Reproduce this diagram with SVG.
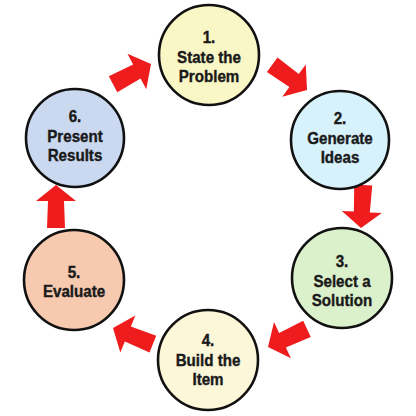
<svg xmlns="http://www.w3.org/2000/svg" width="416" height="416" viewBox="0 0 416 416">
<defs>
<path id="arr" d="M0,0 L-16,-20 L-16,-8 L-43,-9 L-43,9 L-16,8 L-16,20 Z"/>
</defs>
<style>
.n{stroke:#111;stroke-width:2.6}
.t{font-family:"Liberation Sans",Arial,sans-serif;font-weight:bold;font-size:17px;fill:#1a1a1a;stroke:#1a1a1a;stroke-width:0.4;text-anchor:middle}
.a{fill:#EE1C1C}
</style>
<rect width="416" height="416" fill="#fff"/>
<g id="connectors">
<use href="#arr" class="a" transform="translate(151,64) rotate(-28)"/>
<use href="#arr" class="a" transform="translate(307,90) rotate(36)"/>
<use href="#arr" class="a" transform="translate(361,228) rotate(93)"/>
<use href="#arr" class="a" transform="translate(268,347) rotate(155)"/>
<use href="#arr" class="a" transform="translate(113,328) rotate(202)"/>
<use href="#arr" class="a" transform="translate(56,185) rotate(-90)"/>
</g>
<g id="n1">
<circle class="n" cx="209" cy="55" r="50" fill="#FAF7C6"/>
<g transform="translate(209,55) scale(0.89,1)" class="t"><text y="-12">1.</text><text y="8">State the</text><text y="27.5">Problem</text></g>
</g>
<g id="n2">
<circle class="n" cx="340" cy="140" r="49" fill="#D8F2FB"/>
<g transform="translate(340,140) scale(0.89,1)" class="t"><text y="-16">2.</text><text y="3.5">Generate</text><text y="23">Ideas</text></g>
</g>
<g id="n3">
<circle class="n" cx="342" cy="278" r="50" fill="#DBF1CB"/>
<g transform="translate(342,278) scale(0.89,1)" class="t"><text y="-11">3.</text><text y="8.5">Select a</text><text y="28">Solution</text></g>
</g>
<g id="n4">
<circle class="n" cx="208" cy="360" r="50" fill="#FBF7D8"/>
<g transform="translate(208,360) scale(0.89,1)" class="t"><text y="-14">4.</text><text y="5.5">Build the</text><text y="25">Item</text></g>
</g>
<g id="n5">
<circle class="n" cx="74" cy="280" r="50" fill="#F7C9AF"/>
<g transform="translate(74,280) scale(0.89,1)" class="t"><text y="-2">5.</text><text y="17.5">Evaluate</text></g>
</g>
<g id="n6">
<circle class="n" cx="75" cy="138" r="49" fill="#CAD8F0"/>
<g transform="translate(75,138) scale(0.89,1)" class="t"><text y="-16">6.</text><text y="3.5">Present</text><text y="23">Results</text></g>
</g>
</svg>
